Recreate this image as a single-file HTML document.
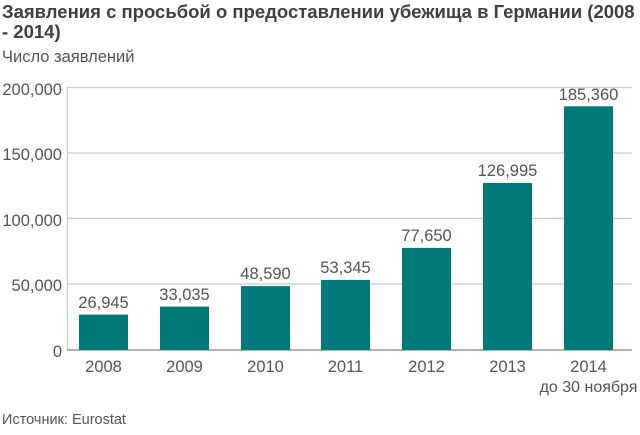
<!DOCTYPE html><html><head><style>body{margin:0;background:#fff;width:640px;height:430px;overflow:hidden;font-family:"Liberation Sans",sans-serif}</style></head><body>
<svg width="640" height="430" xmlns="http://www.w3.org/2000/svg" font-family="Liberation Sans, sans-serif">
<text x="2" y="18" font-size="18.5" font-weight="bold" fill="#404040">Заявления с просьбой о предоставлении убежища в Германии (2008</text>
<text x="2" y="38" font-size="18.5" font-weight="bold" fill="#404040">- 2014)</text>
<text x="2" y="62" font-size="16.5" fill="#555">Число заявлений</text>
<g stroke="#ccc" stroke-width="1.2">
<line x1="67" y1="87.5" x2="632" y2="87.5"/><line x1="67" y1="153" x2="632" y2="153"/><line x1="67" y1="218.5" x2="632" y2="218.5"/><line x1="67" y1="284" x2="632" y2="284"/>
<line x1="67.5" y1="87" x2="67.5" y2="350"/></g>
<line x1="67" y1="350" x2="632" y2="350" stroke="#999" stroke-width="1.5"/>
<g font-size="16.5" fill="#555" text-anchor="end">
<text x="62" y="95">200,000</text><text x="62" y="160">150,000</text><text x="62" y="226">100,000</text><text x="62" y="291">50,000</text><text x="62" y="357">0</text></g>
<g fill="#007a78">
<rect x="79" y="314.6" width="49" height="35.4"/>
<rect x="160" y="306.6" width="49" height="43.4"/>
<rect x="241" y="286.1" width="49" height="63.9"/>
<rect x="321" y="279.9" width="49" height="70.1"/>
<rect x="402" y="247.9" width="49" height="102.1"/>
<rect x="483" y="183" width="49" height="167"/>
<rect x="564" y="106.3" width="49" height="243.7"/></g>
<g font-size="16.5" fill="#555" text-anchor="middle">
<text x="103.5" y="308">26,945</text><text x="184.5" y="300">33,035</text><text x="265.5" y="279">48,590</text><text x="345.5" y="273">53,345</text><text x="426.5" y="241">77,650</text><text x="507.5" y="176">126,995</text><text x="588.5" y="100">185,360</text>
<text x="103.5" y="372">2008</text><text x="184.5" y="372">2009</text><text x="265.5" y="372">2010</text><text x="345.5" y="372">2011</text><text x="426.5" y="372">2012</text><text x="507.5" y="372">2013</text><text x="588.5" y="372">2014</text>
<text x="588.5" y="392" font-size="16">до 30 ноября</text></g>
<text x="2" y="424" font-size="14.5" fill="#555">Источник: Eurostat</text>
</svg></body></html>
